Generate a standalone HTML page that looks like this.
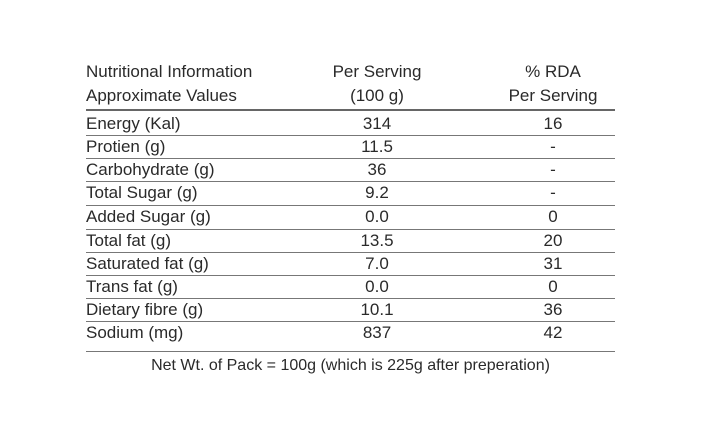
<!DOCTYPE html>
<html><head><style>
body{margin:0;width:706px;height:434px;background:#fff;position:relative;font-family:"Liberation Sans",sans-serif;color:#2a2a2a;font-size:17px;overflow:hidden}
.t{position:absolute;white-space:nowrap;line-height:20px}
.l{left:86px}
.c1{left:317px;width:120px;text-align:center}
.c2{left:493px;width:120px;text-align:center}
.h{position:absolute;left:86px;width:529px;height:1px;background:#777}
</style></head><body>
<div class="t l" style="top:62px">Nutritional Information</div>
<div class="t l" style="top:86px">Approximate Values</div>
<div class="t c1" style="top:62px">Per Serving</div>
<div class="t c1" style="top:86px">(100 g)</div>
<div class="t c2" style="top:62px">% RDA</div>
<div class="t c2" style="top:86px">Per Serving</div>
<div class="h" style="top:109px;height:2px;background:#666"></div>
<div class="h" style="top:135px"></div>
<div class="h" style="top:158px"></div>
<div class="h" style="top:181px"></div>
<div class="h" style="top:205px"></div>
<div class="h" style="top:229px"></div>
<div class="h" style="top:252px"></div>
<div class="h" style="top:275px"></div>
<div class="h" style="top:298px"></div>
<div class="h" style="top:321px"></div>
<div class="h" style="top:351px"></div>

<div class="t l" style="top:114px">Energy (Kal)</div><div class="t c1" style="top:114px">314</div><div class="t c2" style="top:114px">16</div>
<div class="t l" style="top:137px">Protien (g)</div><div class="t c1" style="top:137px">11.5</div><div class="t c2" style="top:137px">-</div>
<div class="t l" style="top:160px">Carbohydrate (g)</div><div class="t c1" style="top:160px">36</div><div class="t c2" style="top:160px">-</div>
<div class="t l" style="top:183px">Total Sugar (g)</div><div class="t c1" style="top:183px">9.2</div><div class="t c2" style="top:183px">-</div>
<div class="t l" style="top:207px">Added Sugar (g)</div><div class="t c1" style="top:207px">0.0</div><div class="t c2" style="top:207px">0</div>
<div class="t l" style="top:231px">Total fat (g)</div><div class="t c1" style="top:231px">13.5</div><div class="t c2" style="top:231px">20</div>
<div class="t l" style="top:254px">Saturated fat (g)</div><div class="t c1" style="top:254px">7.0</div><div class="t c2" style="top:254px">31</div>
<div class="t l" style="top:277px">Trans fat (g)</div><div class="t c1" style="top:277px">0.0</div><div class="t c2" style="top:277px">0</div>
<div class="t l" style="top:300px">Dietary fibre (g)</div><div class="t c1" style="top:300px">10.1</div><div class="t c2" style="top:300px">36</div>
<div class="t l" style="top:323px">Sodium (mg)</div><div class="t c1" style="top:323px">837</div><div class="t c2" style="top:323px">42</div>

<div class="t" style="top:356px;left:86px;width:529px;text-align:center;font-size:16px">Net Wt. of Pack = 100g (which is 225g after preperation)</div>
</body></html>
